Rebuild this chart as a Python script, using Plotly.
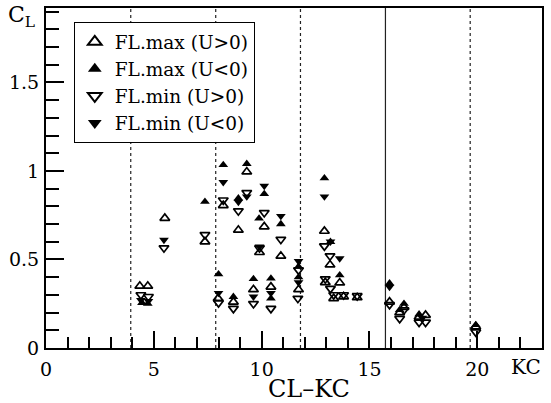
import plotly.graph_objects as go

# ---- data ----
kc_max_pos = [4.35, 4.72, 5.51, 7.37, 7.98, 8.22, 8.69, 8.92, 9.31, 9.62, 9.90, 10.12, 10.43, 10.89,
              11.71, 12.91, 12.95, 13.17, 13.34, 13.62, 13.80, 14.43, 15.93, 16.40, 16.60, 17.30, 17.60, 19.93]
cl_max_pos = [0.35, 0.35, 0.733, 0.60, 0.28, 0.805, 0.26, 0.666, 0.995, 0.33, 0.54, 0.685, 0.345, 0.519,
              0.33, 0.66, 0.37, 0.47, 0.28, 0.368, 0.29, 0.285, 0.26, 0.20, 0.23, 0.175, 0.185, 0.12]

kc_max_neg = [4.45, 4.72, 7.37, 8.00, 8.22, 8.69, 8.92, 9.31, 9.62, 9.88, 10.12, 10.43, 10.43, 10.89,
              11.71, 11.71, 12.91, 13.19, 13.62, 15.93, 16.40, 16.60, 17.30, 19.93]
cl_max_neg = [0.255, 0.25, 0.826, 0.417, 1.034, 0.289, 0.845, 1.04, 0.39, 0.732, 0.87, 0.393, 0.28, 0.70,
              0.46, 0.40, 0.959, 0.60, 0.411, 0.365, 0.215, 0.25, 0.19, 0.13]

kc_min_pos = [4.40, 4.75, 5.47, 7.37, 8.00, 8.22, 8.69, 8.92, 9.31, 9.62, 9.90, 10.12, 10.43, 10.89,
              11.71, 11.68, 12.91, 12.95, 13.17, 13.19, 13.34, 13.80, 14.43, 15.93, 16.40, 16.60, 17.30, 17.60, 19.93]
cl_min_pos = [0.30, 0.29, 0.565, 0.64, 0.255, 0.835, 0.223, 0.774, 0.877, 0.25, 0.565, 0.764, 0.223, 0.613,
              0.44, 0.28, 0.576, 0.39, 0.52, 0.336, 0.30, 0.30, 0.295, 0.245, 0.166, 0.215, 0.145, 0.145, 0.09]

kc_min_neg = [4.40, 4.75, 5.47, 8.00, 8.22, 8.92, 9.31, 9.62, 9.90, 10.12, 10.43, 10.89,
              11.71, 11.71, 12.91, 13.19, 13.62, 15.93, 17.45]
cl_min_neg = [0.27, 0.265, 0.61, 0.31, 0.936, 0.825, 0.855, 0.29, 0.572, 0.915, 0.31, 0.745,
              0.49, 0.37, 0.855, 0.60, 0.506, 0.345, 0.17]

kc_lines = [3.93, 7.87, 11.80, 15.74, 19.67]
kc_line_dash = ["dot", "dot", "dot", "solid", "dot"]

x_tickvals = [0, 5, 10, 15, 20]
x_ticktext = ["0", "5", "10", "15", "20"]
y_tickvals = [0, 0.5, 1, 1.5]
y_ticktext = ["0", "0.5", "1", "1.5"]

FONT = "DejaVu Serif"
MS = 8.5
TICK_FS = 19

fig = go.Figure()
fig.add_trace(go.Scatter(x=kc_max_pos, y=cl_max_pos, mode="markers", name="FL.max (U>0)",
                         marker=dict(symbol="triangle-up-open", size=MS, color="black",
                                     line=dict(color="black", width=1.7))))
fig.add_trace(go.Scatter(x=kc_max_neg, y=cl_max_neg, mode="markers", name="FL.max (U<0)",
                         marker=dict(symbol="triangle-up", size=MS, color="black",
                                     line=dict(width=0))))
fig.add_trace(go.Scatter(x=kc_min_pos, y=cl_min_pos, mode="markers", name="FL.min (U>0)",
                         marker=dict(symbol="triangle-down-open", size=MS, color="black",
                                     line=dict(color="black", width=1.7))))
fig.add_trace(go.Scatter(x=kc_min_neg, y=cl_min_neg, mode="markers", name="FL.min (U<0)",
                         marker=dict(symbol="triangle-down", size=MS, color="black",
                                     line=dict(width=0))))

for xv, dash in zip(kc_lines, kc_line_dash):
    fig.add_shape(type="line", xref="x", yref="paper", x0=xv, x1=xv, y0=0, y1=1,
                  line=dict(color="#222222", width=1.2, dash=dash), layer="below")

fig.update_layout(
    width=551, height=403,
    margin=dict(l=46, r=9, t=8, b=55, autoexpand=False),
    plot_bgcolor="white", paper_bgcolor="white",
    font=dict(family=FONT, color="black", size=TICK_FS),
    showlegend=True,
    legend=dict(x=0.056, y=0.958, xanchor="left", yanchor="top",
                bgcolor="white", bordercolor="black", borderwidth=1,
                font=dict(family=FONT, size=18.5, color="black"),
                tracegroupgap=0, itemsizing="constant", itemwidth=30),
    xaxis=dict(range=[0, 23], showgrid=False, zeroline=False, automargin=False,
               showline=True, linecolor="black", linewidth=2, mirror=True,
               tickmode="array", tickvals=x_tickvals, ticktext=x_ticktext,
               ticks="inside", ticklen=17, tickwidth=1.5, tickcolor="black",
               ticklabelstandoff=3,
               minor=dict(dtick=1, tick0=0, ticks="inside", ticklen=11,
                          tickwidth=1.5, tickcolor="black", showgrid=False),
               tickfont=dict(family=FONT, size=TICK_FS, color="black")),
    yaxis=dict(range=[0, 1.92], showgrid=False, zeroline=False, automargin=False,
               showline=True, linecolor="black", linewidth=2, mirror=True,
               tickmode="array", tickvals=y_tickvals, ticktext=y_ticktext,
               ticks="inside", ticklen=18, tickwidth=1.5, tickcolor="black",
               ticklabelstandoff=1,
               minor=dict(dtick=0.1, tick0=0, ticks="inside", ticklen=13,
                          tickwidth=1.5, tickcolor="black", showgrid=False),
               tickfont=dict(family=FONT, size=TICK_FS, color="black")),
)

fig.add_annotation(x=22.25, y=0, xref="x", yref="paper", yshift=-19,
                   text="KC", showarrow=False, yanchor="middle",
                   font=dict(family=FONT, size=20, color="black"))
fig.add_annotation(x=0.53, y=-0.122, xref="paper", yref="paper",
                   text="CL\u2013KC", showarrow=False, yanchor="middle",
                   font=dict(family=FONT, size=24, color="black"))
fig.add_annotation(x=-0.05, y=0.975, xref="paper", yref="paper",
                   text="C<sub>L</sub>", showarrow=False, xanchor="center", yanchor="middle",
                   font=dict(family=FONT, size=22, color="black"))

fig.write_html("out.html", config={"displayModeBar": False},
               post_script="document.body.style.margin='0px';")
